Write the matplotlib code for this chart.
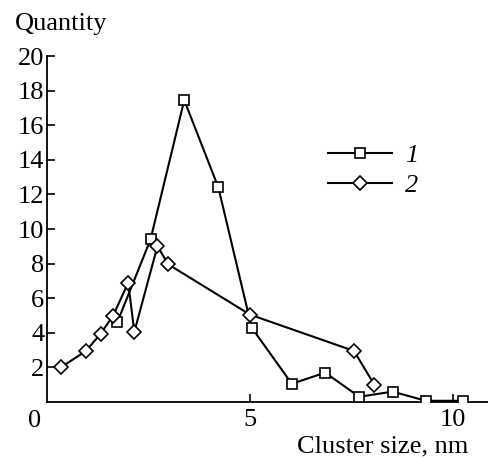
import matplotlib
matplotlib.use("Agg")
import matplotlib.pyplot as plt

# series 1 (squares)
size1 = [1.73, 2.55, 3.38, 4.22, 5.04, 6.03, 6.85, 7.69, 8.51, 9.33, 10.24]
qty1 = [4.6, 9.4, 17.45, 12.4, 4.3, 1.05, 1.7, 0.3, 0.6, 0.07, 0.07]
# series 2 (diamonds)
size2 = [0.34, 0.96, 1.32, 1.63, 2.0, 2.15, 2.72, 2.99, 5.0, 7.56, 8.06]
qty2 = [2.0, 2.95, 3.95, 5.0, 6.9, 4.05, 9.0, 7.95, 5.05, 2.95, 1.0]

ytick_vals = [2, 4, 6, 8, 10, 12, 14, 16, 18, 20]
xtick_vals = [5, 10]

plt.rcParams['font.family'] = ['Liberation Serif', 'DejaVu Serif']

fig = plt.figure(figsize=(4.88, 4.58), dpi=100)
ax = fig.add_axes([47/488, 56/458, 441/488, 346/458])

ax.plot(size1, qty1, color='black', lw=1.5, marker='s', ms=7,
        mfc='white', mec='black', mew=1.2, label='1', zorder=3)
ax.plot(size2, qty2, color='black', lw=1.5, marker='D', ms=7.5,
        mfc='white', mec='black', mew=1.2, label='2', zorder=3)

ax.set_xlim(0, 10.86)
ax.set_ylim(0, 20)
ax.spines['top'].set_visible(False)
ax.spines['right'].set_visible(False)
for s in ['left', 'bottom']:
    ax.spines[s].set_linewidth(1.3)
ax.set_yticks(ytick_vals)
ax.set_xticks(xtick_vals)
ax.tick_params(direction='in', length=6, width=1.2, labelsize=19)
ax.tick_params(axis='y', pad=2)
ax.tick_params(axis='x', pad=5)

fig.text(35/488, 1 - 421/458, '0', fontsize=19, ha='center', va='center')
fig.text(15/488, 1 - 30/458, 'Quantity', fontsize=19, ha='left', va='baseline')
fig.text(468/488, 1 - 452/458, 'Cluster size, nm', fontsize=19, ha='right', va='baseline')

leg = ax.legend(loc='center left', bbox_to_anchor=(0.584, 0.67), frameon=False,
                handlelength=2.4, prop={'style': 'italic', 'size': 19},
                labelspacing=0.25, handletextpad=0.5)

fig.savefig('out.png', dpi=100)
